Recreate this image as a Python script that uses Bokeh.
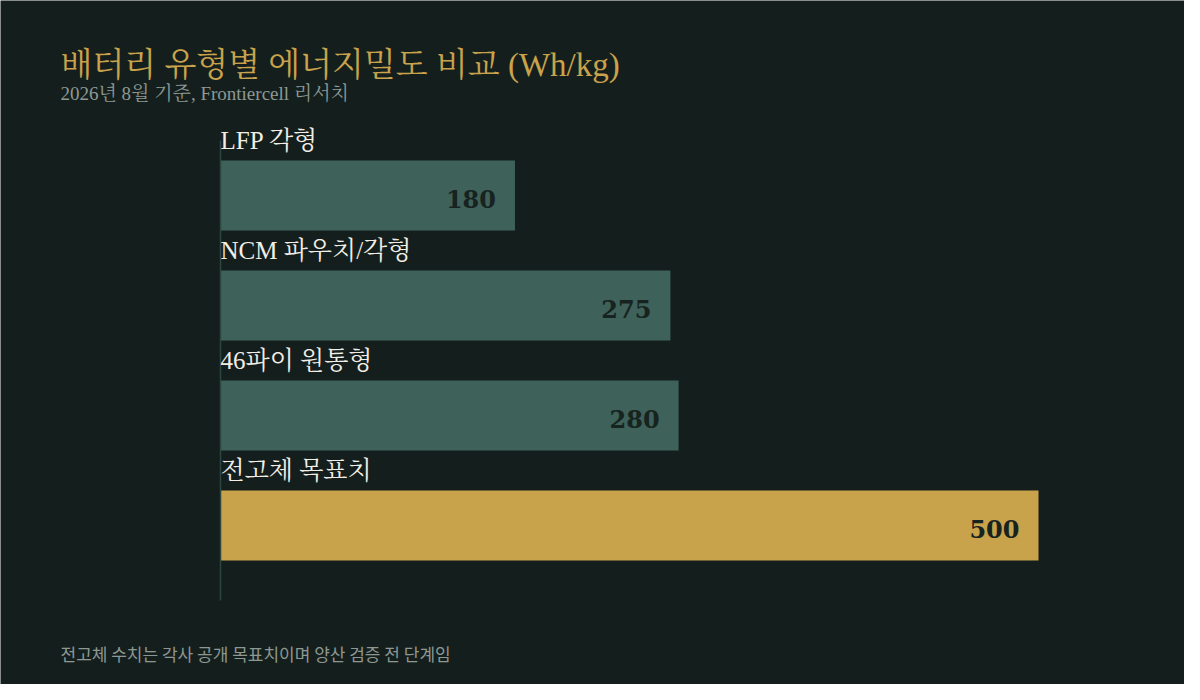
from bokeh.plotting import figure
from bokeh.models import Range1d, Label, ColumnDataSource
from bokeh.core.properties import value
from bokeh.embed import file_html
from bokeh.resources import INLINE

categories = ["LFP 각형", "NCM 파우치/각형", "46파이 원통형", "전고체 목표치"]
values = [180, 275, 280, 500]
value_labels = ["180", "275", "280", "500"]
highlight = [False, False, False, True]

title_text = "배터리 유형별 에너지밀도 비교 (Wh/kg)"
subtitle_text = "2026년 8월 기준, Frontiercell 리서치"
footer_text = "전고체 수치는 각사 공개 목표치이며 양산 검증 전 단계임"

BG = "#141f1d"
TEAL = "#3e6159"
GOLD = "#c9a24c"
SERIF = "Georgia, 'Liberation Serif', 'Noto Serif CJK KR', 'Noto Sans CJK KR', serif"
NUMF = "Georgia, 'DejaVu Serif', serif"
SANS = "'Noto Sans CJK KR', 'Noto Sans', sans-serif"

W, H = 1184, 684
px_per_unit = 1.636
left_px = 220
row_px = 110
first_center = 195
bar_h = 70 / row_px

x0 = -left_px / px_per_unit
x1 = (W - left_px) / px_per_unit
y_top = -first_center / row_px
y_bot = (H - first_center) / row_px

p = figure(width=W, height=H, output_backend="svg", toolbar_location=None,
           x_range=Range1d(x0, x1), y_range=Range1d(y_bot, y_top),
           min_border=0, min_border_left=0, min_border_right=0,
           min_border_top=0, min_border_bottom=0)
p.axis.visible = False
p.grid.visible = False
p.outline_line_color = None
p.background_fill_color = BG
p.border_fill_color = BG

n = len(categories)
ys = list(range(n))
src = ColumnDataSource(dict(
    y=ys, val=values, cat=categories, lab=value_labels,
    color=[GOLD if h else TEAL for h in highlight],
    ytop=[y - bar_h / 2 for y in ys],
))

p.hbar(y="y", left=0, right="val", height=bar_h, fill_color="color",
       line_color=None, source=src)

# axis line
p.segment(x0=0, y0=-0.5, x1=0, y1=n - 1 + 0.682, line_color="#2c4640", line_width=1.5)

p.text(x=0, y="ytop", text="cat", source=src, text_color="#f2eee6",
       text_font=value(SERIF), text_font_size="25px", text_align="left",
       text_baseline="alphabetic", y_offset=-20)

p.text(x="val", y="y", text="lab", source=src, text_color="#17231f",
       text_font=value(NUMF), text_font_size="24px", text_font_style="bold",
       text_align="right", text_baseline="middle", x_offset=-19, y_offset=3)

p.add_layout(Label(x=60, y=H - 64, x_units="screen", y_units="screen", text=title_text,
                   text_color=GOLD, text_font=SERIF, text_font_size="33px",
                   text_baseline="alphabetic"))
p.add_layout(Label(x=60, y=H - 93, x_units="screen", y_units="screen", text=subtitle_text,
                   text_color="#8e9893", text_font=SERIF, text_font_size="19px",
                   text_baseline="alphabetic"))
p.add_layout(Label(x=60, y=H - 653, x_units="screen", y_units="screen", text=footer_text,
                   text_color="#8e9893", text_font=SANS, text_font_size="17px",
                   text_baseline="alphabetic"))

html = file_html(p, INLINE)
html = html.replace("<body>", '<body style="background:%s;">' % BG, 1)
open("out.html", "w").write(html)
